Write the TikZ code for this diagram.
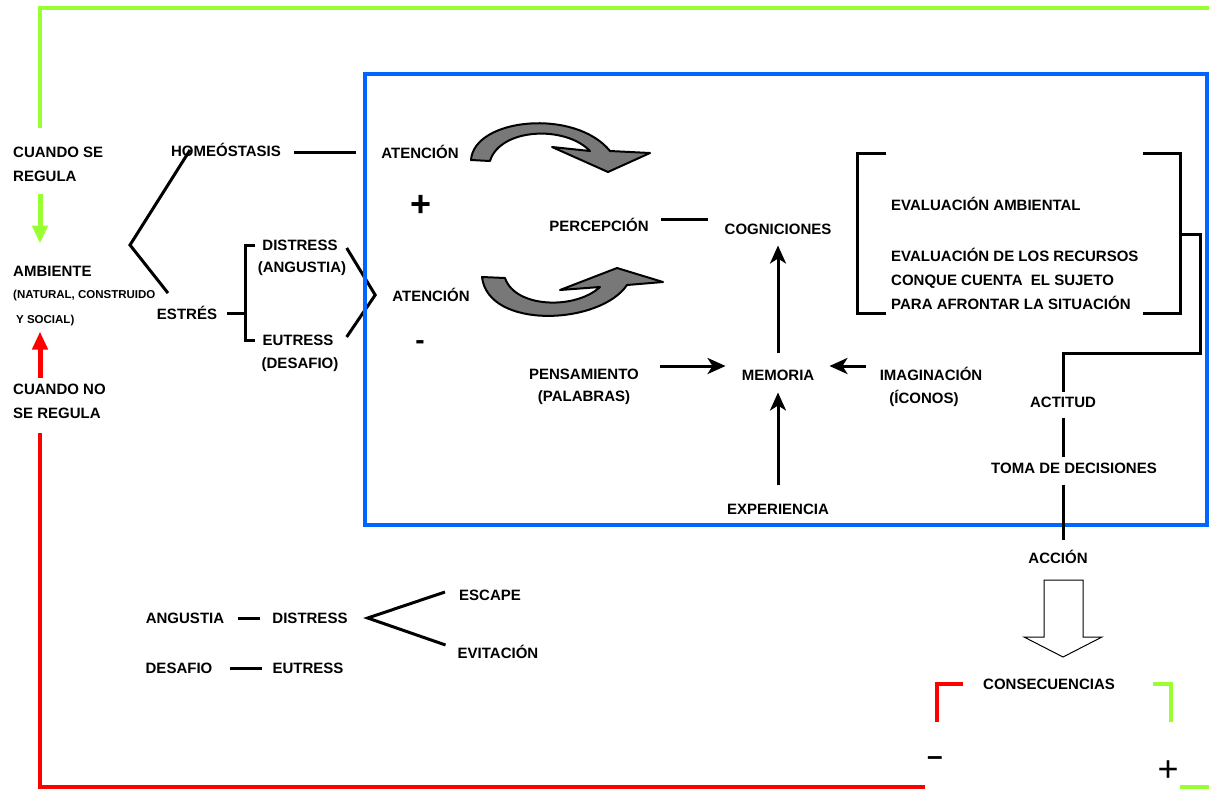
\documentclass[tikz,border=0pt]{standalone}
\usepackage{fontspec}
\setmainfont{Liberation Sans}
\usetikzlibrary{arrows.meta}
\definecolor{azul}{RGB}{0,102,255}
\definecolor{verde}{RGB}{153,255,51}
\definecolor{rojo}{RGB}{255,0,0}
\definecolor{gris}{RGB}{120,120,120}

\begin{document}
\begin{tikzpicture}[x=1pt, y=-1pt,
  txt/.style={font=\bfseries\fontsize{15}{24}\selectfont, inner sep=1pt},
  small/.style={font=\bfseries\fontsize{11.5}{25}\selectfont, inner sep=1pt},
  lin/.style={line width=3pt},
  arr/.style={line width=3pt, -{Stealth[length=18pt,width=16pt,inset=5pt]}},
  curva/.style={fill=gris, draw=black, line width=2pt, line join=round}]
\useasboundingbox (0,0) rectangle (1209,790);

% columna izquierda
\node[txt, anchor=west, align=left] (cuandose) at (12,164) {CUANDO SE\\REGULA};
\node[txt, anchor=west] (ambiente) at (12,271) {AMBIENTE};
\node[small, anchor=west, align=left] (natural) at (12,308.5) {(NATURAL, CONSTRUIDO\\\hspace*{3pt}Y SOCIAL)};
\node[txt, anchor=west, align=left] (cuandono) at (12,401) {CUANDO NO\\SE REGULA};
\coordinate (verdefin) at (1215,8);
\coordinate (rojofin) at (925,787);
\draw[verde, line width=4pt] ([xshift=28pt,yshift=17pt]cuandose.north west) |- (verdefin);
\draw[verde, line width=5pt, -{Triangle[length=18pt,width=15pt]}] ([xshift=28pt,yshift=-11pt]cuandose.south west) -- ([xshift=28pt,yshift=21pt]ambiente.north west);
\draw[rojo, line width=5pt, -{Triangle[length=18pt,width=15pt]}] ([xshift=28pt,yshift=4pt]cuandono.north west) -- ([xshift=28pt,yshift=-4pt]natural.south west);
\draw[rojo, line width=4pt] ([xshift=28pt,yshift=-13pt]cuandono.south west) |- (rojofin);

% homeostasis y estres
\node[txt] (homeo) at (226,150) {HOMEÓSTASIS};
\node[txt] (estres) at (187,313) {ESTRÉS};
\node[txt] (distress) at (300,245) {DISTRESS};
\node[txt] (angustia1) at (302,269) {(ANGUSTIA)};
\node[txt] (eutress) at (298,340) {EUTRESS};
\node[txt] (desafio1) at (300,365) {(DESAFIO)};
\node[txt] (aten1) at (420,152) {ATENCIÓN};
\node[font=\bfseries\fontsize{36}{36}\selectfont] (mas) at (421,206) {+};
\node[txt] (aten2) at (431,295) {ATENCIÓN};
\node[font=\bfseries\fontsize{28}{28}\selectfont] (menos) at (420,345) {-};
\coordinate (fork) at (130,245);
\coordinate (brk) at (245,313);
\draw[lin] ([xshift=-36pt]homeo.center) -- (fork) -- ([xshift=-19pt,yshift=12pt]estres.north);
\draw[lin] ([xshift=12pt,yshift=-2pt]homeo.east) -- ([xshift=-24pt,yshift=-2pt]homeo.east -| aten1.west);
\draw[lin] ([xshift=-6pt]distress.west) -| (brk) |- ([xshift=-6pt]eutress.west);
\draw[lin, shorten <=9pt] (estres.east) -- (brk);
\draw[lin] ([xshift=8pt,yshift=-3pt]distress.east) -- ([xshift=-16pt]aten2.west) -- ([xshift=12pt,yshift=3pt]eutress.east);

% recuadro azul
\draw[azul, line width=4.5pt] (365,74) rectangle (1207,525);

% flechas curvas
\draw[curva] (471,160) .. controls (474,118) and (575,108) .. (610,151) -- (650,153) -- (608,172) -- (552,147) -- (590,151) .. controls (565,125) and (500,128) .. (490,161) -- cycle;
\draw[curva] (482,277) .. controls (488,330) and (600,325) .. (627,285) -- (663,282) -- (617,268) -- (560,290) -- (600,287) .. controls (575,310) and (515,308) .. (505,278) -- cycle;

% cogniciones
\node[txt] (percep) at (599,225) {PERCEPCIÓN};
\node[txt] (cogn) at (778,229) {COGNICIONES};
\node[txt] (memoria) at (778,375) {MEMORIA};
\node[txt] (pensa) at (584,374) {PENSAMIENTO};
\node[txt] (palabras) at (584,398) {(PALABRAS)};
\node[txt] (imag) at (931,374) {IMAGINACIÓN};
\node[txt] (iconos) at (924,398) {(ÍCONOS)};
\node[txt] (exper) at (778,509) {EXPERIENCIA};
\draw[lin, shorten <=11pt, shorten >=15pt] ([yshift=6pt]percep.east) -- ([yshift=6pt]percep.east -| cogn.west);
\draw[arr, shorten <=15pt, shorten >=10pt] (memoria) -- (cogn);
\draw[arr, shorten <=20pt, shorten >=15pt] ([yshift=8pt]pensa.east) -- ([yshift=8pt]pensa.east -| memoria.west);
\draw[arr, shorten <=13pt, shorten >=14pt] ([yshift=8pt]imag.west) -- ([yshift=8pt]imag.west -| memoria.east);
\draw[arr, shorten <=17pt, shorten >=11pt] (exper) -- (memoria);

% evaluacion
\node[txt, anchor=west] (evalamb) at (890,204) {EVALUACIÓN AMBIENTAL};
\node[txt, anchor=west, align=left] (evalrec) at (890,279) {EVALUACIÓN DE LOS RECURSOS\\CONQUE CUENTA\ \ EL SUJETO\\PARA AFRONTAR LA SITUACIÓN};
\draw[lin] (886,153) -| (857,313) -- (886,313);
\draw[lin] (1143,153) -| (1180,313) -- (1143,313);

% actitud, decisiones, accion
\coordinate (brR) at (1180,234);
\coordinate (giro) at (1063,353);
\node[txt] (actitud) at (1063,402) {ACTITUD};
\node[txt] (toma) at (1074,468) {TOMA DE DECISIONES};
\node[txt] (accion) at (1058,557) {ACCIÓN};
\draw[lin] (brR) -- ++(20,0) |- (giro) -- ([yshift=3pt]actitud.north);
\draw[lin] ([yshift=-9pt]actitud.south) -- ([yshift=4pt]actitud.south |- toma.north);
\draw[lin] ([yshift=-10pt]actitud.south |- toma.south) -- ([yshift=9pt]actitud.south |- accion.north);
\draw[line width=1pt] (1044,580) -- (1083,580) -- (1083,637) -- (1102,637) -- (1063,657) -- (1024,637) -- (1044,637) -- cycle;

% consecuencias
\node[txt] (consec) at (1049,684) {CONSECUENCIAS};
\node[font=\bfseries\fontsize{28}{28}\selectfont, inner sep=0pt] (menos2) at (935,761) {–};
\node[font=\fontsize{36}{36}\selectfont, inner sep=0pt] (mas2) at (1168,771) {+};
\draw[rojo, line width=4pt] (963,684) -| (937,722);
\draw[verde, line width=4pt] (1153,684) -| (1171,722);
\draw[verde, line width=4pt] ([xshift=12pt,yshift=-16pt]mas2.center) -- ++(40,0);

% leyenda
\node[txt] (angustia) at (185,618) {ANGUSTIA};
\node[txt] (distress2) at (310,618) {DISTRESS};
\node[txt] (desafio) at (179,668) {DESAFIO};
\node[txt] (eutress2) at (308,668) {EUTRESS};
\node[txt] (escape) at (490,595) {ESCAPE};
\node[txt] (evitacion) at (498,652) {EVITACIÓN};
\draw[lin, shorten <=13pt, shorten >=11pt] (angustia) -- (distress2);
\draw[lin, shorten <=16pt, shorten >=9pt] (desafio) -- (eutress2);
\draw[lin] ([xshift=-13pt,yshift=3pt]escape.west) -- ([xshift=19pt]distress2.east) -- ([xshift=-11pt,yshift=7pt]evitacion.west);
\end{tikzpicture}
\end{document}
